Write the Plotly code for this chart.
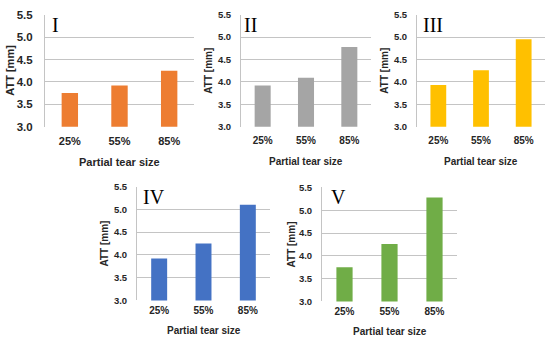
import plotly.graph_objects as go

categories = ["25%", "55%", "85%"]
panel_labels = ["I", "II", "III", "IV", "V"]
att_I = [3.75, 3.92, 4.25]
att_II = [3.92, 4.09, 4.78]
att_III = [3.93, 4.26, 4.95]
att_IV = [3.92, 4.25, 5.10]
att_V = [3.75, 4.26, 5.28]
y_ticks = [3.0, 3.5, 4.0, 4.5, 5.0, 5.5]
x_title = "Partial tear size"
y_title = "ATT [mm]"

series = [att_I, att_II, att_III, att_IV, att_V]
colors = ["#ED7D31", "#A5A5A5", "#FFC000", "#4472C4", "#70AD47"]

W, H = 550, 346
# plot-area boxes in pixels: (left, right, top, bottom)
boxes = [(45, 194, 9, 125), (241, 371, 9, 125), (417, 545, 9, 125),
         (137, 270, 187, 305), (322, 457, 188, 306)]
bar_widths = [0.33, 0.37, 0.37, 0.36, 0.36]
label_dx = [5, 1, 4, 4, 7]
ytitle_shift = [-35, -32, -32, -33, -31]
xtitle_shift = [-35, -35, -35, -30, -30]
font_sizes = [11, 10, 10, 10, 10]
ytick_sizes = [11.5, 9.5, 9.5, 9.5, 9.5]
ytick_standoff = [9, 7, 7, 7, 7]

FONT = "Liberation Sans"
GRID = "#C4C4C4"
TXT = "#262626"

fig = go.Figure()
layout = dict(
    width=W, height=H,
    margin=dict(l=0, r=0, t=0, b=0),
    paper_bgcolor="white", plot_bgcolor="white",
    showlegend=False,
    annotations=[],
)

for i, (vals, col, box) in enumerate(zip(series, colors, boxes)):
    n = "" if i == 0 else str(i + 1)
    x0, x1, yt, yb = box
    f = dict(family=FONT, size=font_sizes[i], color=TXT, weight="bold")
    fy = dict(family=FONT, size=ytick_sizes[i], color=TXT, weight="bold")
    fig.add_trace(go.Bar(
        x=categories, y=vals, marker=dict(color=col, line=dict(width=0)),
        width=bar_widths[i], xaxis="x" + n, yaxis="y" + n,
    ))
    layout["xaxis" + n] = dict(
        domain=[x0 / W, x1 / W], anchor="y" + n,
        showgrid=False, showline=False, zeroline=False, ticks="",
        tickfont=f, ticklabelstandoff=6 if i < 3 else 3,
        fixedrange=True,
    )
    layout["yaxis" + n] = dict(
        domain=[1 - yb / H, 1 - yt / H], anchor="x" + n,
        range=[3.0, 5.5], tickvals=y_ticks, tickformat=".1f",
        showgrid=True, gridcolor=GRID, gridwidth=1,
        showline=True, linecolor=GRID, linewidth=1,
        zeroline=False, ticks="",
        tickfont=fy, ticklabelstandoff=ytick_standoff[i],
        fixedrange=True,
    )
    dom = dict(xref="x" + n + " domain", yref="y" + n + " domain", showarrow=False)
    layout["annotations"].append(dict(
        text=panel_labels[i], x=0, y=1, xshift=label_dx[i], yshift=3,
        xanchor="left", yanchor="top",
        font=dict(family="Liberation Serif", size=20, color="#000"), **dom,
    ))
    layout["annotations"].append(dict(
        text=x_title, x=0.5, y=0, yshift=xtitle_shift[i],
        xanchor="center", yanchor="middle", font=f, **dom,
    ))
    layout["annotations"].append(dict(
        text=y_title, x=0, y=0.5, xshift=ytitle_shift[i], textangle=-90,
        xanchor="center", yanchor="middle", font=f, **dom,
    ))

fig.update_layout(**layout)
fig.write_html("out.html", config={"displayModeBar": False},
               post_script="document.body.style.margin='0';")
